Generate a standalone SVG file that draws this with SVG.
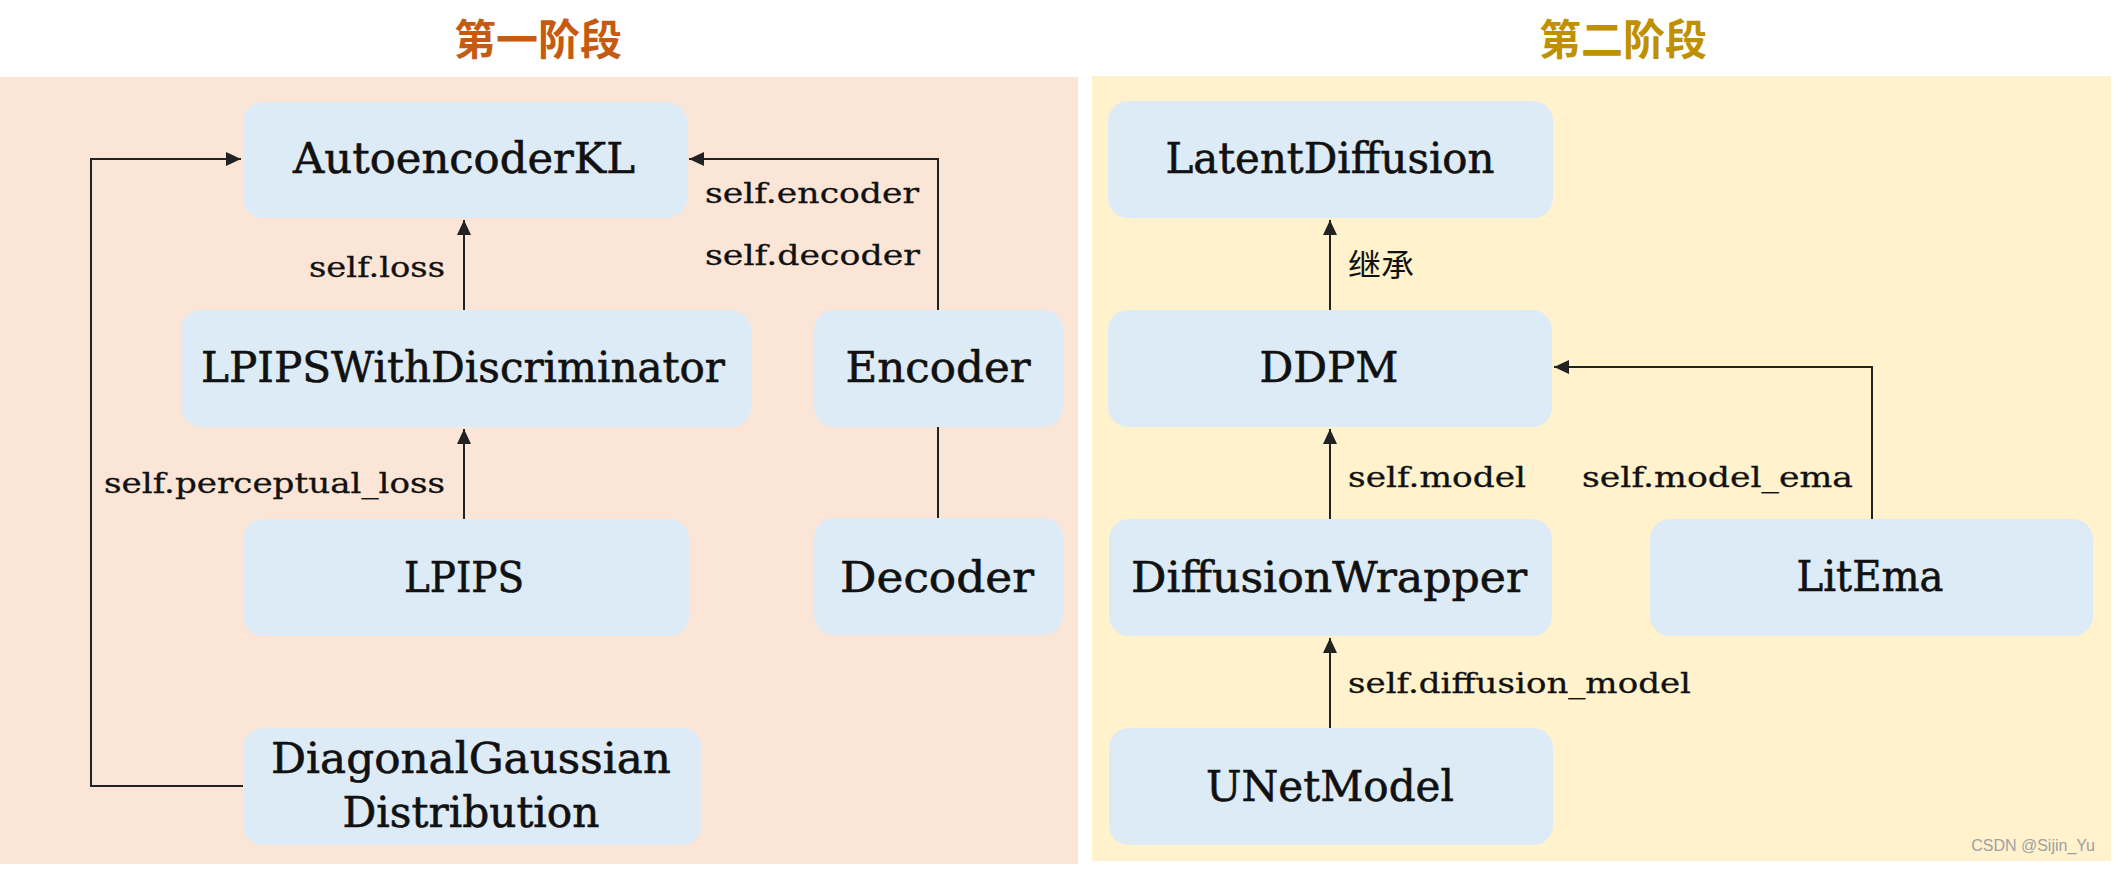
<svg xmlns="http://www.w3.org/2000/svg" width="2124" height="882" viewBox="0 0 2124 882">
<style>
.node{fill:#DDEBF7}
.nt{font-family:"DejaVu Serif","Liberation Serif",serif;font-size:42px;fill:#111;stroke:#111;stroke-width:0.6px;text-anchor:middle}
.lb{font-family:"DejaVu Serif","Liberation Serif",serif;font-size:27px;fill:#111;stroke:#111;stroke-width:0.3px}
.cj{font-family:"Noto Sans CJK SC",sans-serif;font-size:31px;fill:#111}
.title{font-family:"Noto Sans CJK SC",sans-serif;font-size:42px;font-weight:bold;text-anchor:middle}
.edge{fill:none;stroke:#222;stroke-width:2}
</style>
<defs>
<marker id="arr" markerUnits="userSpaceOnUse" markerWidth="16" markerHeight="16" viewBox="0 0 16 16" refX="15" refY="8" orient="auto">
<path d="M0,1 L15,8 L0,15 Z" fill="#222"/>
</marker>
</defs>
<rect width="2124" height="882" fill="#fff"/>
<g id="panel1">
<rect x="0" y="77" width="1078" height="787" fill="#FBE5D6"/>
<text class="title" x="538" y="55" fill="#C55A11">第一阶段</text>
</g>
<g id="panel2">
<rect x="1092" y="76" width="1019" height="785" fill="#FFF2CC"/>
<text class="title" x="1623" y="55" fill="#BF9000">第二阶段</text>
</g>
<g id="connectors">
<path class="edge" d="M464 310 V220" marker-end="url(#arr)"/>
<path class="edge" d="M464 519 V429" marker-end="url(#arr)"/>
<path class="edge" d="M938 310 V159 H689" marker-end="url(#arr)"/>
<path class="edge" d="M938 518 V427"/>
<path class="edge" d="M243 786 H91 V159 H241" marker-end="url(#arr)"/>
<path class="edge" d="M1330 310 V220" marker-end="url(#arr)"/>
<path class="edge" d="M1330 519 V429" marker-end="url(#arr)"/>
<path class="edge" d="M1330 728 V638" marker-end="url(#arr)"/>
<path class="edge" d="M1872 519 V367 H1554" marker-end="url(#arr)"/>
<text class="lb" x="445" y="277" text-anchor="end" textLength="136" lengthAdjust="spacingAndGlyphs">self.loss</text>
<text class="lb" x="705" y="203" textLength="214" lengthAdjust="spacingAndGlyphs">self.encoder</text>
<text class="lb" x="705" y="265" textLength="215" lengthAdjust="spacingAndGlyphs">self.decoder</text>
<text class="lb" x="445" y="493" text-anchor="end" textLength="341" lengthAdjust="spacingAndGlyphs">self.perceptual_loss</text>
<text class="cj" x="1348" y="276" textLength="66" lengthAdjust="spacingAndGlyphs">继承</text>
<text class="lb" x="1348" y="487" textLength="178" lengthAdjust="spacingAndGlyphs">self.model</text>
<text class="lb" x="1582" y="487" textLength="271" lengthAdjust="spacingAndGlyphs">self.model_ema</text>
<text class="lb" x="1348" y="693" textLength="343" lengthAdjust="spacingAndGlyphs">self.diffusion_model</text>
</g>
<g id="AutoencoderKL">
<rect class="node" x="243" y="102" width="444" height="116" rx="20"/>
<text class="nt" x="464" y="173" textLength="342" lengthAdjust="spacingAndGlyphs">AutoencoderKL</text>
</g>
<g id="LPIPSWithDiscriminator">
<rect class="node" x="181" y="310" width="570" height="117" rx="20"/>
<text class="nt" x="463" y="382" textLength="524" lengthAdjust="spacingAndGlyphs">LPIPSWithDiscriminator</text>
</g>
<g id="Encoder">
<rect class="node" x="814" y="310" width="249" height="117" rx="20"/>
<text class="nt" x="938" y="382" textLength="185" lengthAdjust="spacingAndGlyphs">Encoder</text>
</g>
<g id="LPIPS">
<rect class="node" x="243" y="519" width="446" height="117" rx="20"/>
<text class="nt" x="464" y="592" textLength="120" lengthAdjust="spacingAndGlyphs">LPIPS</text>
</g>
<g id="Decoder">
<rect class="node" x="814" y="518" width="249" height="117" rx="20"/>
<text class="nt" x="937" y="592" textLength="194" lengthAdjust="spacingAndGlyphs">Decoder</text>
</g>
<g id="DiagonalGaussianDistribution">
<rect class="node" x="243" y="728" width="459" height="117" rx="20"/>
<text class="nt" x="471" y="773" textLength="400" lengthAdjust="spacingAndGlyphs">DiagonalGaussian</text>
<text class="nt" x="471" y="827" textLength="257" lengthAdjust="spacingAndGlyphs">Distribution</text>
</g>
<g id="LatentDiffusion">
<rect class="node" x="1108" y="101" width="445" height="117" rx="20"/>
<text class="nt" x="1330" y="173" textLength="329" lengthAdjust="spacingAndGlyphs">LatentDiffusion</text>
</g>
<g id="DDPM">
<rect class="node" x="1108" y="310" width="444" height="117" rx="20"/>
<text class="nt" x="1329" y="382" textLength="139" lengthAdjust="spacingAndGlyphs">DDPM</text>
</g>
<g id="DiffusionWrapper">
<rect class="node" x="1109" y="519" width="443" height="117" rx="20"/>
<text class="nt" x="1329" y="592" textLength="396" lengthAdjust="spacingAndGlyphs">DiffusionWrapper</text>
</g>
<g id="LitEma">
<rect class="node" x="1650" y="519" width="443" height="117" rx="20"/>
<text class="nt" x="1870" y="591" textLength="147" lengthAdjust="spacingAndGlyphs">LitEma</text>
</g>
<g id="UNetModel">
<rect class="node" x="1109" y="728" width="444" height="117" rx="20"/>
<text class="nt" x="1330" y="801" textLength="248" lengthAdjust="spacingAndGlyphs">UNetModel</text>
</g>
<text x="2095" y="851" text-anchor="end" font-family="Liberation Sans, sans-serif" font-size="16" fill="#A0A0A0">CSDN @Sijin_Yu</text>
</svg>
